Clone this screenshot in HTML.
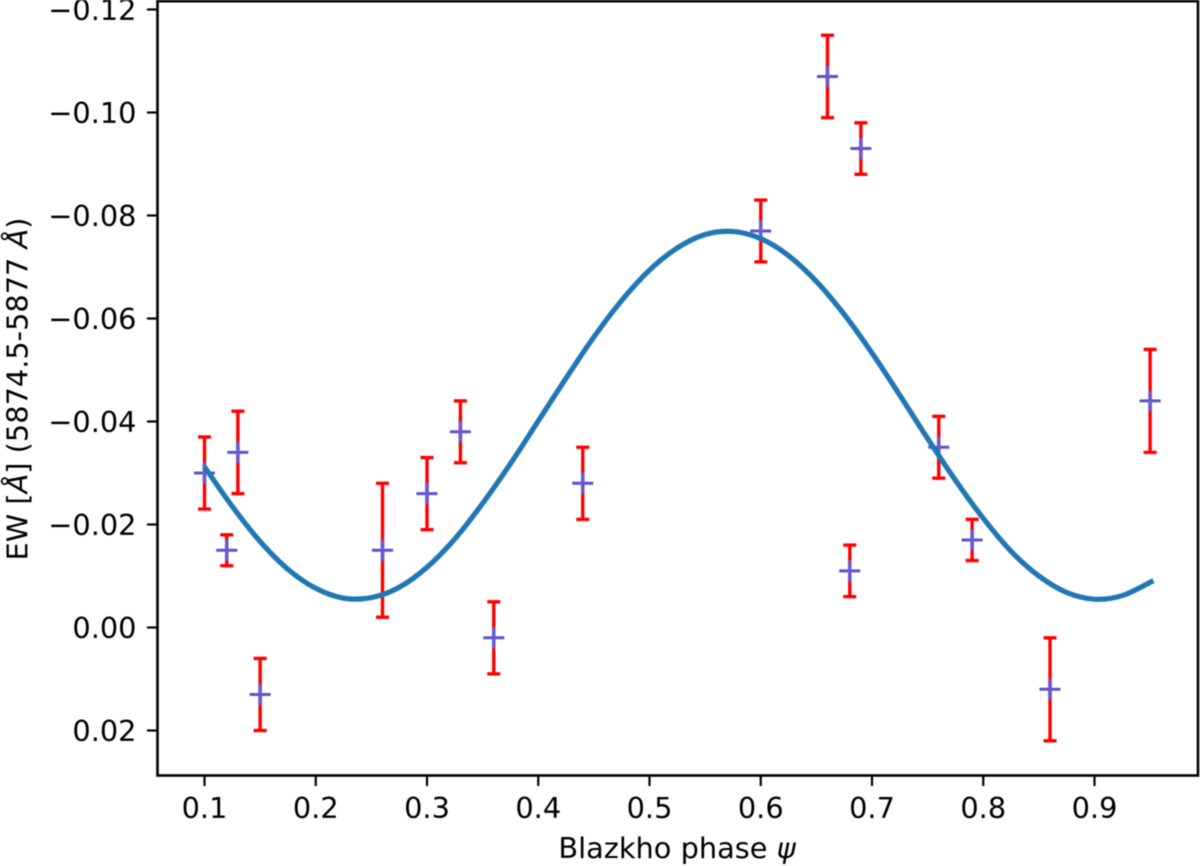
<!DOCTYPE html>
<html>
<head>
<meta charset="utf-8">
<title>Blazkho phase chart</title>
<style>
html,body{margin:0;padding:0;background:#fff;overflow:hidden;}
svg{display:block;filter:blur(0.55px);}
text{font-family:"DejaVu Sans","Liberation Sans",sans-serif;fill:#000;}
</style>
</head>
<body>
<svg id="chart" width="1200" height="866" viewBox="0 0 1200 866" xmlns="http://www.w3.org/2000/svg">
  <rect x="157.5" y="1.2" width="1040.5" height="774.3" fill="#fff"/>
  <g id="ticks"></g>
  <g id="errs"></g>
  <g id="marks"></g>
  <path id="curve" fill="none" stroke="#1f77b4" stroke-width="5.2" stroke-linejoin="round"/>
  <rect x="157.5" y="1.2" width="1040.5" height="774.3" fill="none" stroke="#000" stroke-width="2.6"/>
  <text x="677" y="858" text-anchor="middle" font-size="28.8">Blazkho phase <tspan font-style="italic">ψ</tspan></text>
  <text transform="translate(27.5,389) rotate(-90)" text-anchor="middle" font-size="28.8">EW [<tspan font-style="italic">Å</tspan>] (5874.5-5877 <tspan font-style="italic">Å</tspan>)</text>
</svg>
<script>
const pointPhase = [0.10,0.12,0.13,0.15,0.26,0.30,0.33,0.36,0.44,0.60,0.66,0.68,0.69,0.76,0.79,0.86,0.95];
const pointEW = [-0.030,-0.015,-0.034,0.013,-0.015,-0.026,-0.038,0.002,-0.028,-0.077,-0.107,-0.011,-0.093,-0.035,-0.017,0.012,-0.044];
const pointErr = [0.007,0.003,0.008,0.007,0.013,0.007,0.006,0.007,0.007,0.006,0.008,0.005,0.005,0.006,0.004,0.010,0.010];
const curvePhase = [0.1,0.125,0.15,0.175,0.2,0.225,0.25,0.275,0.3,0.325,0.35,0.375,0.4,0.425,0.45,0.475,0.5,0.525,0.55,0.575,0.6,0.625,0.65,0.675,0.7,0.725,0.75,0.775,0.8,0.825,0.85,0.875,0.9,0.925,0.953];
const curveEW = [-0.0312,-0.0235,-0.0167,-0.0113,-0.0076,-0.0057,-0.0058,-0.0078,-0.0117,-0.0172,-0.0241,-0.0318,-0.0401,-0.0484,-0.0564,-0.0635,-0.0694,-0.0737,-0.0763,-0.0769,-0.0755,-0.0722,-0.0672,-0.0608,-0.0533,-0.0451,-0.0367,-0.0286,-0.0212,-0.0148,-0.0100,-0.0068,-0.0055,-0.0062,-0.0091];
const xTickValues = [0.1,0.2,0.3,0.4,0.5,0.6,0.7,0.8,0.9];
const xTickLabels = ['0.1','0.2','0.3','0.4','0.5','0.6','0.7','0.8','0.9'];
const yTickValues = [-0.12,-0.10,-0.08,-0.06,-0.04,-0.02,0,0.02];
const yTickLabels = ['−0.12','−0.10','−0.08','−0.06','−0.04','−0.02','0.00','0.02'];

const NS = 'http://www.w3.org/2000/svg';
function sx(v){ return 204.5 + (v - 0.1) * 1112.5; }
function sy(v){ return 627.5 + v * 5150; }
function line(parent, x1, y1, x2, y2, color, width){
  const el = document.createElementNS(NS, 'line');
  el.setAttribute('x1', x1);
  el.setAttribute('y1', y1);
  el.setAttribute('x2', x2);
  el.setAttribute('y2', y2);
  el.setAttribute('stroke', color);
  el.setAttribute('stroke-width', width);
  parent.appendChild(el);
  return el;
}
const ticksG = document.getElementById('ticks');
xTickValues.forEach(function(v, i){
  const t = line(ticksG, sx(v), 775.5, sx(v), 786, '#000', 2.2);
  
  
  const lab = document.createElementNS(NS, 'text');
  lab.setAttribute('x', sx(v));
  lab.setAttribute('y', 818);
  lab.setAttribute('text-anchor', 'middle');
  lab.setAttribute('font-size', '28.8');
  lab.textContent = xTickLabels[i];
  
  
  ticksG.appendChild(lab);
});
yTickValues.forEach(function(v, i){
  const t = line(ticksG, 147, sy(v), 157.5, sy(v), '#000', 2.2);
  
  
  const lab = document.createElementNS(NS, 'text');
  lab.setAttribute('x', 136.5);
  lab.setAttribute('y', sy(v) + 10.5);
  lab.setAttribute('text-anchor', 'end');
  lab.setAttribute('font-size', '28.8');
  lab.textContent = yTickLabels[i];
  
  
  ticksG.appendChild(lab);
});
const errsG = document.getElementById('errs');
const marksG = document.getElementById('marks');
pointPhase.forEach(function(p, i){
  const x = sx(p);
  const y = sy(pointEW[i]);
  const top = sy(pointEW[i] - pointErr[i]);
  const bot = sy(pointEW[i] + pointErr[i]);
  const bar = line(errsG, x, top, x, bot, '#ff0000', 3.4);
  
  
  const capT = line(errsG, x - 6.5, top, x + 6.5, top, '#ff0000', 3.4);
  
  
  const capB = line(errsG, x - 6.5, bot, x + 6.5, bot, '#ff0000', 3.4);
  
  
  const h = line(marksG, x - 10.5, y, x + 10.5, y, '#5f50d0', 3);
  
  
  const v = line(marksG, x, y - 10.5, x, y + 10.5, '#6a5acd', 3.6);
  
  
});
// Smooth path through the curve samples (Catmull-Rom to Bezier)
const pts = curvePhase.map(function(p, i){ return [sx(p), sy(curveEW[i])]; });
let d = 'M' + pts[0][0] + ' ' + pts[0][1];
for (let i = 0; i < pts.length - 1; i++) {
  const p0 = pts[Math.max(i - 1, 0)];
  const p1 = pts[i];
  const p2 = pts[i + 1];
  const p3 = pts[Math.min(i + 2, pts.length - 1)];
  d += ' C' + (p1[0] + (p2[0] - p0[0]) / 6) + ' ' + (p1[1] + (p2[1] - p0[1]) / 6) + ' ' +
       (p2[0] - (p3[0] - p1[0]) / 6) + ' ' + (p2[1] - (p3[1] - p1[1]) / 6) + ' ' + p2[0] + ' ' + p2[1];
}
document.getElementById('curve').setAttribute('d', d);
</script>
</body>
</html>
